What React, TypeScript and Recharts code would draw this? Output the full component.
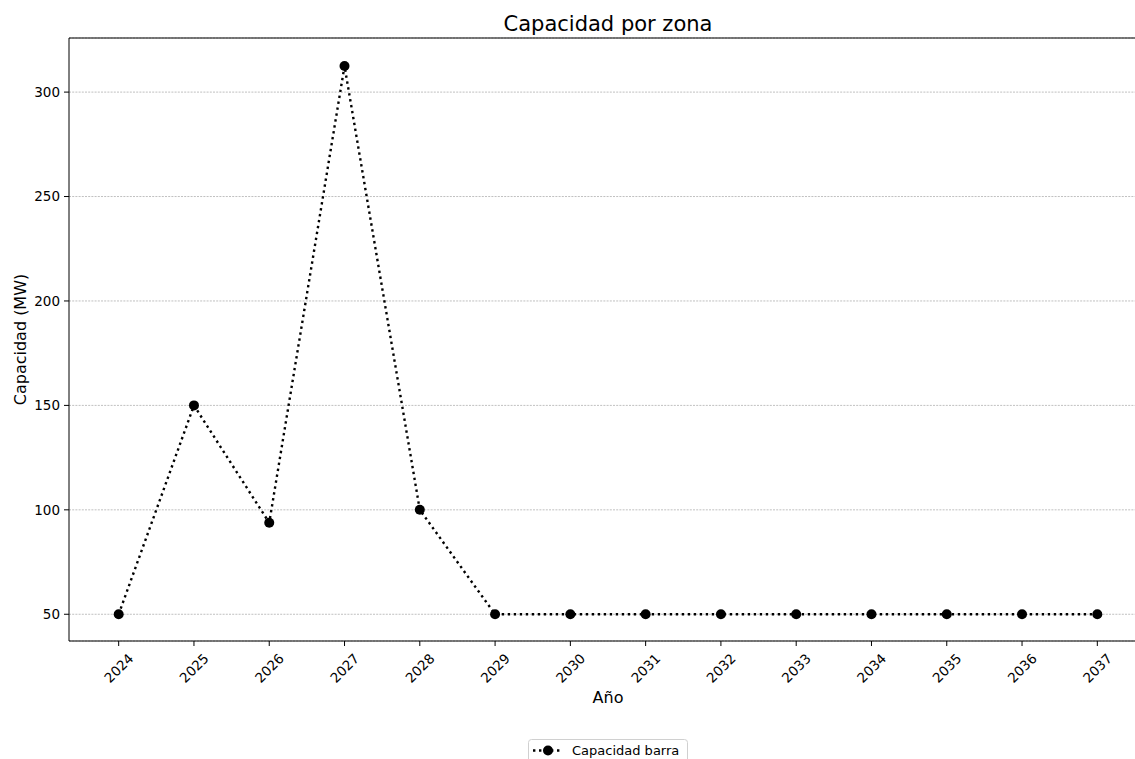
import React from 'react';
import { LineChart, Line, XAxis, YAxis, CartesianGrid, Legend, Customized, ReferenceLine } from 'recharts';

const years = [2024, 2025, 2026, 2027, 2028, 2029, 2030, 2031, 2032, 2033, 2034, 2035, 2036, 2037];
const capacidad = [50, 150, 93.8, 312.5, 100, 50, 50, 50, 50, 50, 50, 50, 50, 50];
const yTicks = [50, 100, 150, 200, 250, 300];
const seriesName = 'Capacidad barra';
const title = 'Capacidad por zona';
const xLabel = 'Año';
const yLabel = 'Capacidad (MW)';
const xDomain = [2023.34, 2037.66];
const yDomain = [37.2, 325.9];

const data = years.map((y, i) => ({ year: y, value: capacidad[i] }));

const FONT = '"DejaVu Sans", sans-serif';
const CHART_W = 1160;
const CHART_H = 759;
const MARGIN = { top: 38, right: 13, left: 0, bottom: 56 };
const Y_W = 69;
const X_H = 62;

const XTick = (props: any) => {
  const { x, y, payload } = props;
  const cy = y + 22;
  return (
    <text
      x={x}
      y={cy}
      textAnchor="middle"
      dominantBaseline="central"
      fontSize={13.5}
      fontFamily={FONT}
      fill="#000"
      transform={`rotate(-45, ${x}, ${cy})`}
    >
      {payload.value}
    </text>
  );
};

const Texts = () => {
  const plotLeft = MARGIN.left + Y_W;
  const plotRight = CHART_W - MARGIN.right;
  const plotTop = MARGIN.top;
  const plotBottom = CHART_H - MARGIN.bottom - X_H;
  const cx = (plotLeft + plotRight) / 2;
  const cy = (plotTop + plotBottom) / 2;
  return (
    <g>
      <text x={cx} y={31} textAnchor="middle" fontSize={21} fontFamily={FONT} fill="#000">
        {title}
      </text>
      <text x={cx} y={703} textAnchor="middle" fontSize={16} fontFamily={FONT} fill="#000">
        {xLabel}
      </text>
      <text
        x={26}
        y={cy}
        textAnchor="middle"
        fontSize={16}
        fontFamily={FONT}
        fill="#000"
        transform={`rotate(-90, 26, ${cy})`}
      >
        {yLabel}
      </text>
    </g>
  );
};

const LegendContent = () => (
  <svg width={162} height={32} style={{ display: 'block' }}>
    <rect x={0.5} y={0.5} width={159} height={30} rx={3} ry={3} fill="#fff" stroke="#d0d0d0" strokeWidth={1} />
    <line x1={5} y1={11.5} x2={33} y2={11.5} stroke="#000" strokeWidth={2.4} strokeDasharray="2.4 3.6" />
    <circle cx={20} cy={11.5} r={5} fill="#000" />
    <text x={44} y={16} fontSize={13} fontFamily={FONT} fill="#000">
      {seriesName}
    </text>
  </svg>
);

export default function App() {
  return (
    <div style={{ position: 'fixed', left: 0, top: 0, width: 1135, height: 759, overflow: 'hidden', background: '#fff' }}>
      <LineChart width={CHART_W} height={CHART_H} data={data} margin={MARGIN}>
        <CartesianGrid vertical={false} stroke="#b0b0b0" strokeWidth={0.8} strokeDasharray="2 1.2" />
        <XAxis
          dataKey="year"
          type="number"
          domain={xDomain}
          allowDataOverflow
          ticks={years}
          interval={0}
          height={X_H}
          tickSize={5}
          tickMargin={0}
          tick={<XTick />}
          tickLine={{ stroke: '#000', strokeWidth: 1 }}
          axisLine={{ stroke: '#000', strokeWidth: 1 }}
        />
        <YAxis
          type="number"
          domain={yDomain}
          allowDataOverflow
          ticks={yTicks}
          width={Y_W}
          tickSize={5}
          tickMargin={4}
          tick={{ fontSize: 13.5, fontFamily: FONT, fill: '#000' }}
          tickLine={{ stroke: '#000', strokeWidth: 1 }}
          axisLine={{ stroke: '#000', strokeWidth: 1 }}
        />
        <ReferenceLine y={yDomain[1]} stroke="#000" strokeWidth={1} ifOverflow="visible" />
        <ReferenceLine x={xDomain[1]} stroke="#000" strokeWidth={1} ifOverflow="visible" />
        <Line
          type="linear"
          dataKey="value"
          name={seriesName}
          stroke="#000"
          strokeWidth={2.4}
          strokeDasharray="2.4 3.6"
          dot={{ r: 5, fill: '#000', stroke: '#000', strokeWidth: 0 }}
          activeDot={false}
          isAnimationActive={false}
        />
        <Legend
          layout="horizontal"
          verticalAlign="middle"
          align="center"
          content={<LegendContent />}
          wrapperStyle={{ position: 'absolute', top: 739, left: 528, width: 162, height: 32 }}
        />
        <Customized component={<Texts />} />
      </LineChart>
    </div>
  );
}
